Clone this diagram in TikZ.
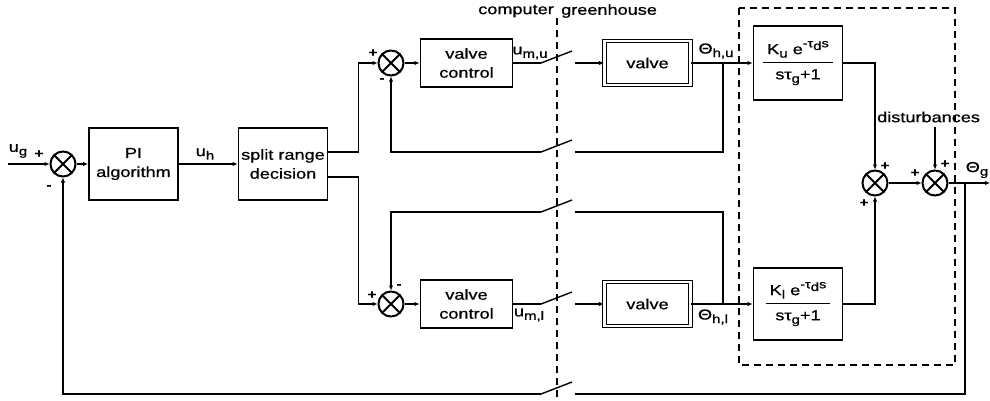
\documentclass[tikz,border=0pt]{standalone}
\usepackage{fontspec}
\setmainfont{Liberation Sans}[FakeStretch=1.25, FakeBold=0.8]
\usetikzlibrary{positioning,arrows.meta,calc}
\newcommand{\subx}[1]{\raisebox{-0.45ex}{\fontsize{12}{12}\selectfont #1}}
\newcommand{\supx}[1]{\raisebox{0.9ex}{\fontsize{11.5}{12}\selectfont #1}}
\newcommand{\trf}[2]{\begin{tabular}{@{\hspace{4pt}}c@{\hspace{4pt}}}#1\\[2pt]\hline\rule{0pt}{17pt}#2\end{tabular}}

\begin{document}
\begin{tikzpicture}[
    x=1pt, y=-1pt,
    font=\fontsize{14.5}{19}\selectfont,
    block/.style={rectangle, draw, line width=1.9pt, minimum width=89pt,
        minimum height=72pt, align=center, inner sep=1pt},
    ctrl/.style={block, minimum width=92pt, minimum height=48pt},
    valve/.style={rectangle, draw, line width=1.1pt, double, double distance=2.5pt,
        minimum width=86pt, minimum height=44pt},
    sum/.style={circle, draw, line width=2pt, minimum size=25pt, inner sep=0pt,
        path picture={\draw[line width=2pt]
            (path picture bounding box.south west) -- (path picture bounding box.north east)
            (path picture bounding box.north west) -- (path picture bounding box.south east);}},
    arrow/.style={-{Latex[length=5pt,width=4.5pt]}, line width=1.2pt},
    line/.style={line width=1.2pt},
    blade/.style={line width=1.4pt},
    sign/.style={font=\fontsize{12}{12}\selectfont\bfseries, inner sep=0pt},
    lbl/.style={inner sep=1pt}
]
    \useasboundingbox (0,0) rectangle (990,400);

    % blocks
    \node[sum] (s1) at (63,164) {};
    \node[block] (pi) at (133.5,164) {PI\\algorithm};
    \node[block] (split) at (283,164) {split range\\decision};
    \node[sum] (s2) at (391,63) {};
    \node[sum] (s3) at (391,304) {};
    \node[ctrl] (vcu) at (466.5,63) {valve\\control};
    \node[ctrl] (vcl) at (466.5,304) {valve\\control};
    \node[valve] (valu) at (647.5,63) {valve};
    \node[valve] (vall) at (647.5,304) {valve};
    \node[block, minimum height=74pt] (gu) at (798,63)
        {\trf{K\subx{u} e\supx{-τ\subx{d}s}}{sτ\subx{g}+1}};
    \node[block] (gl) at (798,304)
        {\trf{K\subx{l} e\supx{-τ\subx{d}s}}{sτ\subx{g}+1}};
    \node[sum] (s4) at (875,183) {};
    \node[sum] (s5) at (935,183) {};

    % computer / greenhouse boundary
    \draw[line width=1.2pt, dash pattern=on 7pt off 5pt] (739,8) rectangle (955,365);
    \draw[line width=1.2pt, dash pattern=on 7pt off 5pt] (557,18) -- (557,400);
    \node[lbl, anchor=east] (comp) at (555,11) {computer};
    \node[lbl, anchor=west] (green) at (560,11) {greenhouse};

    % free ends and switch contacts
    \coordinate (in) at (8,164);
    \coordinate (out) at (990,183);
    \coordinate (dist) at (935,127);
    \coordinate (swua) at (541,63);  \coordinate (swub) at (575,63);
    \coordinate (swla) at (541,304); \coordinate (swlb) at (575,304);
    \coordinate (sfua) at (541,152); \coordinate (sfub) at (575,152);
    \coordinate (sfla) at (541,212); \coordinate (sflb) at (575,212);
    \coordinate (sfga) at (541,394); \coordinate (sfgb) at (575,394);
    \coordinate (bu) at (723,63);
    \coordinate (bl) at (723,304);
    \coordinate (bg) at (965,183);

    % forward path
    \draw[arrow] (in) -- (s1);
    \draw[arrow] (s1) -- (pi);
    \draw[arrow] (pi) -- (split);
    \draw[arrow] ($(split.east)+(0,-12)$) -- ++(30,0) |- (s2);
    \draw[arrow] ($(split.east)+(0,13)$) -- ++(30,0) |- (s3);
    \draw[arrow] (s2) -- (vcu);
    \draw[arrow] (s3) -- (vcl);
    \draw[line] (vcu) -- (swua);
    \draw[line] (vcl) -- (swla);
    \draw[blade] (swua) -- ++(31,-12);
    \draw[blade] (swla) -- ++(31,-12);
    \draw[arrow] (swub) -- (valu);
    \draw[arrow] (swlb) -- (vall);
    \draw[arrow] (valu) -- (gu);
    \draw[arrow] (vall) -- (gl);
    \draw[arrow] (gu) -| (s4);
    \draw[arrow] (gl) -| (s4);
    \draw[arrow] (s4) -- (s5);
    \draw[arrow] (dist) -- (s5);
    \draw[arrow] (s5) -- (out);

    % feedback paths
    \draw[line] (bu) |- (sfub);
    \draw[blade] (sfua) -- ++(31,-12);
    \draw[arrow] (sfua) -| (s2);
    \draw[line] (bl) |- (sflb);
    \draw[blade] (sfla) -- ++(31,-12);
    \draw[arrow] (sfla) -| (s3);
    \draw[line] (bg) |- (sfgb);
    \draw[blade] (sfga) -- ++(31,-12);
    \draw[arrow] (sfga) -| (s1);

    % signal labels
    \node[lbl] (lug) at (18,151) {u\subx{g}};
    \node[lbl] (luh) at (205,154) {u\subx{h}};
    \node[lbl] (lumu) at (530,53) {u\subx{m,u}};
    \node[lbl] (luml) at (529,315) {u\subx{m,l}};
    \node[lbl] (lthu) at (716,51) {Θ\subx{h,u}};
    \node[lbl] (lthl) at (713,317) {Θ\subx{h,l}};
    \node[lbl] (lthg) at (977,170) {Θ\subx{g}};
    \node[lbl, anchor=west] (ldist) at (876,117) {disturbances};

    % signs
    \node[sign] (p1) at (39,154) {+};
    \node[sign] (m1) at (49,187) {-};
    \node[sign] (p2) at (373,53) {+};
    \node[sign] (m2) at (382,80) {-};
    \node[sign] (p3) at (372,295) {+};
    \node[sign] (m3) at (399,286) {-};
    \node[sign] (p4a) at (885,166) {+};
    \node[sign] (p4b) at (864,203) {+};
    \node[sign] (p5a) at (915,173) {+};
    \node[sign] (p5b) at (945,164) {+};
\end{tikzpicture}
\end{document}
